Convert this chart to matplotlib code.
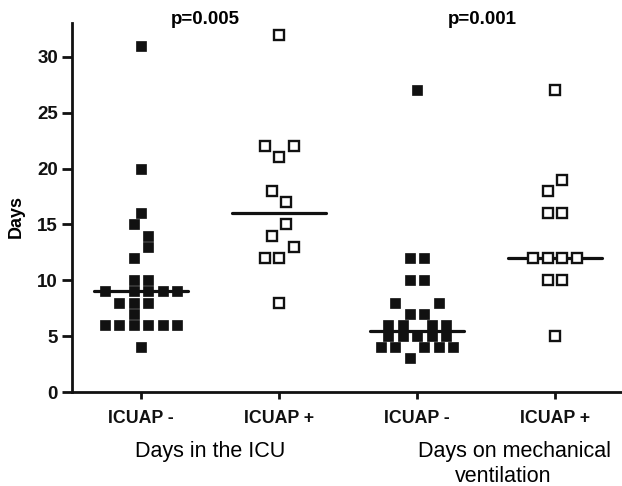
import matplotlib
matplotlib.use("Agg")
import matplotlib.pyplot as plt

plt.rcParams['font.family'] = ['Liberation Sans', 'DejaVu Sans']

# ---- data (days) ----
categories = ["ICUAP -", "ICUAP +", "ICUAP -", "ICUAP +"]
icu_neg = [31, 20, 16, 15, 14, 13, 12, 10, 10, 9, 9, 9, 9, 9, 8, 8, 8, 7,
           6, 6, 6, 6, 6, 6, 4]
icu_pos = [32, 22, 22, 21, 18, 17, 15, 14, 13, 12, 12, 8]
mv_neg = [27, 12, 12, 10, 10, 8, 8, 7, 7, 6, 6, 6, 6, 5, 5, 5, 5, 5,
          4, 4, 4, 4, 4, 3]
mv_pos = [27, 19, 18, 16, 16, 12, 12, 12, 12, 10, 10, 5]
medians = [9, 16, 5.5, 12]
p_values = ["p=0.005", "p=0.001"]
group_titles = ["Days in the ICU", "Days on mechanical", "ventilation"]
yticks = [0, 5, 10, 15, 20, 25, 30]

# ---- layout: horizontal column offsets (in marker columns) ----
icu_neg_off = [0, 0, 0, -0.5, 0.5, 0.5, -0.5, -0.5, 0.5, -2.5, -0.5, 0.5, 1.5, 2.5,
               -1.5, -0.5, 0.5, -0.5, -2.5, -1.5, -0.5, 0.5, 1.5, 2.5, 0]
icu_pos_off = [0, -1, 1, 0, -0.5, 0.5, 0.5, -0.5, 1, -1, 0, 0]
mv_neg_off = [0, -0.5, 0.5, -0.5, 0.5, -1.5, 1.5, -0.5, 0.5, -2, -1, 1, 2,
              -2, -1, 0, 1, 2, -2.5, -1.5, 0.5, 1.5, 2.5, -0.5]
mv_pos_off = [0, 0.5, -0.5, -0.5, 0.5, -1.5, -0.5, 0.5, 1.5, -0.5, 0.5, 0]

W, H = 622, 486
fig = plt.figure(figsize=(W / 100, H / 100), dpi=100)
ax = fig.add_axes([72 / W, 94 / H, 550 / W, 369.3 / H])

step = 14.5 / 138.0
groups = [(icu_neg, icu_neg_off, True), (icu_pos, icu_pos_off, False),
          (mv_neg, mv_neg_off, True), (mv_pos, mv_pos_off, False)]
for i, (vals, offs, filled) in enumerate(groups):
    xs = [i + o * step for o in offs]
    ax.plot([i - 0.34, i + 0.34], [medians[i], medians[i]], color='#111111',
            lw=2.3, zorder=2, solid_capstyle='round')
    if filled:
        ax.plot(xs, vals, 's', ms=7.4, mfc='#111111', mec='#111111', mew=0.5,
                ls='none', zorder=3)
    else:
        ax.plot(xs, vals, 's', ms=7.0, mfc='white', mec='#111111', mew=1.7,
                ls='none', zorder=3)

ax.set_xlim(-0.5, -0.5 + 550 / 138.0)
ax.set_ylim(0, 33.06)
ax.set_yticks(yticks)
ax.set_yticklabels([str(t) for t in yticks], fontsize=13.5, fontweight='bold')
ax.set_xticks(range(4))
ax.set_xticklabels(categories, fontsize=12.8, fontweight='bold')
ax.tick_params(axis='y', direction='out', length=7, width=2, pad=3, colors='#111111')
ax.tick_params(axis='x', direction='out', length=5, width=2, pad=8, colors='#111111')
for s in ['top', 'right']:
    ax.spines[s].set_visible(False)
for s in ['left', 'bottom']:
    ax.spines[s].set_linewidth(2)
    ax.spines[s].set_color('#111111')


def px(x, y):
    return x / W, 1 - y / H


fig.text(*px(16, 216), "Days", ha='center', va='center', rotation=90,
         fontsize=13, fontweight='bold')
fig.text(*px(210, 451), group_titles[0], ha='center', va='center', fontsize=15.5)
fig.text(*px(515, 451), group_titles[1], ha='center', va='center', fontsize=15.5)
fig.text(*px(503, 476), group_titles[2], ha='center', va='center', fontsize=15.5)
fig.text(*px(205, 19), p_values[0], ha='center', va='center', fontsize=13.5, fontweight='bold')
fig.text(*px(482, 19), p_values[1], ha='center', va='center', fontsize=13.5, fontweight='bold')

fig.savefig("out.png", dpi=100)
